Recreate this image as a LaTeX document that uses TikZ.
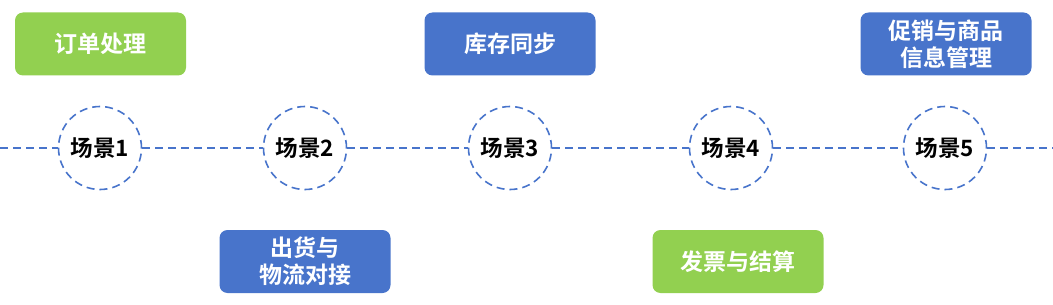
\documentclass[tikz,border=0pt]{standalone}
\usepackage{fontspec}
\setmainfont{Noto Sans CJK SC}[BoldFont={Noto Sans CJK SC Bold}]
\begin{document}
\begin{tikzpicture}[x=1pt,y=-1pt,
  lblue/.style={draw=none,fill=boxblue},
  lgreen/.style={draw=none,fill=boxgreen},
  card/.style={rounded corners=8pt,minimum width=171pt,minimum height=63pt,inner sep=0pt,
    text=white,font=\fontsize{23}{27}\selectfont\bfseries,align=center},
  scene/.style={circle,draw=lineblue,dashed,line width=1.6pt,dash pattern=on 8pt off 5pt,
    minimum size=83pt,inner sep=0pt,font=\fontsize{22.5}{26}\selectfont\bfseries,text=black},
  link/.style={draw=lineblue,line width=1.6pt,dash pattern=on 8pt off 5pt}]
\definecolor{boxblue}{HTML}{4874CB}
\definecolor{boxgreen}{HTML}{92D050}
\definecolor{lineblue}{HTML}{4874CB}
\useasboundingbox (0,0) rectangle (1053,305);
\coordinate (L) at (0,148);
\coordinate (R) at (1053,148);
\node[scene] (s1) at (100,148) {场景1};
\node[scene] (s2) at (305,148) {场景2};
\node[scene] (s3) at (510,148) {场景3};
\node[scene] (s4) at (731,148) {场景4};
\node[scene] (s5) at (945,148) {场景5};
\draw[link] (L) -- (s1.west);
\draw[link] (s1.east) -- (s2.west);
\draw[link] (s2.east) -- (s3.west);
\draw[link] (s3.east) -- (s4.west);
\draw[link] (s4.east) -- (s5.west);
\draw[link] (s5.east) -- (R);
\node[card,lgreen] (b1) at (100.5,44) {订单处理};
\node[card,lblue] (b2) at (305,261.5) {出货与\\物流对接};
\node[card,lblue] (b3) at (510,44) {库存同步};
\node[card,lgreen] (b4) at (738,261.5) {发票与结算};
\node[card,lblue] (b5) at (946,44) {促销与商品\\信息管理};
\end{tikzpicture}
\end{document}
